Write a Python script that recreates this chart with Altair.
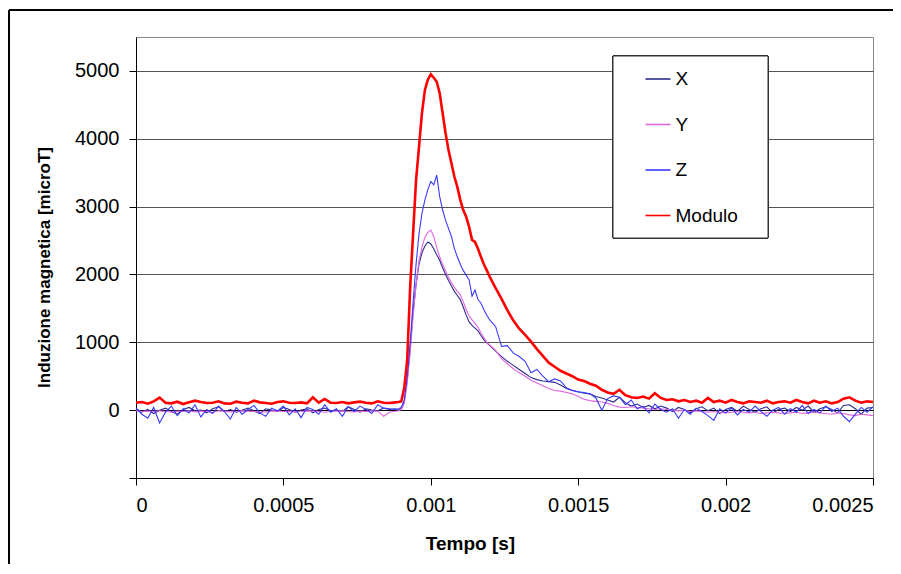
import pandas as pd
import altair as alt

# time indices in units of 1e-5 s
t_pre = list(range(0, 89, 2))      # 45 samples
t_peak = list(range(89, 121))      # 32 samples
t_post = list(range(122, 251, 2))  # 65 samples

modulo_pre = [110, 120, 95, 130, 185,
              110, 100, 125, 90, 115,
              140, 120, 105, 110, 130,
              100, 95, 125, 110, 100,
              140, 115, 105, 95, 120,
              130, 110, 105, 115, 100,
              190, 110, 165, 110, 105,
              120, 100, 115, 125, 110,
              100, 130, 110, 105, 115]
x_pre = [20, -30, 10, -50, 0,
         30, -20, -60, 10, 40,
         -10, 0, -40, 20, 50,
         -20, 10, -30, 0, 30,
         -10, -50, 20, 0, -20,
         40, 10, -30, 0, 20,
         -40, 10, 30, -10, 0,
         -20, 50, 10, -30, 20,
         0, -10, 30, 10, 20]
y_pre = [-10, -20, -15, -25, -10,
         -20, -30, -15, -20, -10,
         -25, -15, -20, -30, -10,
         -15, -25, -20, -10, -15,
         -20, -30, -25, -15, -10,
         -20, -15, -25, -20, -10,
         -15, -20, -30, -20, -15,
         -10, -20, -25, -15, -20,
         -10, -15, -90, -30, -15]
z_pre = [30, -60, -120, 40, -190,
         -30, 60, -80, 20, -40,
         80, -100, 10, -50, 60,
         -20, -130, 40, -60, 10,
         70, -40, -90, 30, -10,
         60, -70, 20, -110, 40,
         10, -60, 80, -30, 20,
         -90, 50, -20, 60, 10,
         -50, 80, 30, 20, 10]

modulo_peak = [120, 130, 330, 740, 1810, 2610, 3390, 3880, 4380, 4720, 4870,
               4950, 4900, 4840, 4675, 4380, 4085, 3835, 3640, 3440, 3290,
               3100, 2950, 2850, 2700, 2510, 2480, 2380, 2260, 2150, 2060, 1965]
x_peak = [0, 30, 130, 450, 900, 1450, 1850, 2150, 2320, 2420, 2480,
          2450, 2380, 2290, 2210, 2100, 2000, 1910, 1830, 1750, 1690,
          1630, 1520, 1400, 1300, 1250, 1210, 1170, 1100, 1040, 990, 950]
y_peak = [-10, 10, 100, 400, 850, 1400, 1850, 2200, 2400, 2550, 2620,
          2655, 2560, 2400, 2260, 2150, 2050, 1960, 1880, 1810, 1750,
          1700, 1600, 1480, 1390, 1330, 1280, 1220, 1140, 1070, 1000, 960]
z_peak = [20, 40, 150, 500, 990, 1600, 2150, 2600, 2900, 3100, 3250,
          3370, 3320, 3465, 3150, 2950, 2800, 2680, 2560, 2380, 2260,
          2150, 2060, 1990, 1920, 1680, 1770, 1630, 1580, 1480, 1400, 1330]

modulo_post = [1800, 1640, 1470, 1320, 1200, 1110, 1010, 900, 800, 700,
               640, 580, 540, 500, 450, 430, 390, 360, 300, 260,
               240, 300, 220, 190, 180, 200, 170, 250, 180, 150,
               160, 130, 150, 120, 140, 110, 180, 120, 140, 110,
               150, 120, 100, 130, 120, 110, 140, 100, 120, 130,
               110, 150, 120, 100, 140, 110, 130, 100, 120, 170,
               190, 140, 110, 130, 120]
x_post = [870, 790, 720, 660, 600, 540, 480, 450, 430, 420,
          410, 370, 320, 290, 270, 250, 240, 200, 180, 150,
          120, 190, 110, 60, 90, 40, 70, 20, 60, 30,
          -20, 40, 10, -40, 20, 50, -10, 30, -50, 10,
          40, -20, 60, 10, -30, 20, 50, -40, 10, 30,
          -20, 40, 0, 60, -30, 20, 50, 10, -40, 70,
          80, 20, -60, 30, 40]
y_post = [880, 760, 680, 610, 550, 500, 440, 400, 360, 320,
          290, 280, 260, 240, 200, 160, 140, 130, 120, 100,
          70, 45, 40, 50, 40, 30, 20, 10, 20, 10,
          0, -10, 0, -20, -10, -20, -30, -20, -30, -40,
          -30, -20, -30, -40, -30, -50, -40, -30, -40, -50,
          -40, -30, -50, -40, -30, -40, -50, -60, -40, -50,
          -70, -80, -60, -70, -80]
z_post = [1230, 940, 950, 840, 790, 720, 550, 600, 500, 420,
          460, 430, 330, 290, 270, 260, 240, 180, 0, 170,
          210, 190, 80, 150, 20, 60, -40, 90, 10, -30,
          20, -120, 10, -60, 30, -20, -80, -150, 20, -40,
          30, -70, 10, -30, 60, -20, -90, 0, 40, -60,
          20, -30, 70, -50, 10, -40, 60, -20, 30, -90,
          -170, -60, 40, -30, 50]

series_names = ["X", "Y", "Z", "Modulo"]
series_colors = ["#2b2b8c", "#e066e0", "#3a3aff", "#ff0000"]

t_idx = t_pre + t_peak + t_post
values = {
    "X": x_pre + x_peak + x_post,
    "Y": y_pre + y_peak + y_post,
    "Z": z_pre + z_peak + z_post,
    "Modulo": modulo_pre + modulo_peak + modulo_post,
}

rows = []
for name in series_names:
    for ti, v in zip(t_idx, values[name]):
        rows.append({"t": round(ti * 1e-5, 6), "B": v, "serie": name})
df = pd.DataFrame(rows)

FONT = "Liberation Sans"

# legend frame (drawn under the legend, above the grid)
legend_box = alt.Chart(df).mark_rect(fill="#ffffff", stroke="#333333", strokeWidth=1).encode(
    x=alt.value(477), x2=alt.value(632), y=alt.value(19), y2=alt.value(201))

lines = alt.Chart(df).mark_line(interpolate="linear").encode(
    x=alt.X("t:Q", title="Tempo [s]",
            scale=alt.Scale(domain=[0, 0.0025], nice=False, zero=False),
            axis=alt.Axis(values=[0, 0.0005, 0.001, 0.0015, 0.002, 0.0025],
                          format=".4~f", grid=False, tickSize=7,
                          labelPadding=10, labelFontSize=20,
                          titleX=334, titleY=65, titleBaseline="middle",
                          titleFontSize=19, titleFontWeight="bold")),
    y=alt.Y("B:Q", title="Induzione magnetica [microT]",
            scale=alt.Scale(domain=[-1000, 5500], nice=False),
            axis=alt.Axis(values=[-1000, 0, 1000, 2000, 3000, 4000, 5000],
                          format="d",
                          labelExpr="datum.value < 0 ? '' : datum.label",
                          grid=True,
                          gridColor=alt.condition("datum.value == 0", alt.value("#000000"), alt.value("#555555")),
                          tickSize=7, labelPadding=10, labelFontSize=20,
                          titleX=-92, titleY=230, titleBaseline="middle",
                          titleFontSize=17, titleFontWeight="bold")),
    color=alt.Color("serie:N",
                    scale=alt.Scale(domain=series_names, range=series_colors),
                    sort=series_names,
                    legend=alt.Legend(title=None, orient="none", legendX=477, legendY=19,
                                      symbolType="stroke", symbolSize=625,
                                      symbolStrokeWidth=1.6, symbolOffset=22,
                                      padding=9.5, rowPadding=21.5, labelOffset=4,
                                      labelFontSize=19, labelFont=FONT)),
    strokeWidth=alt.condition(alt.datum.serie == "Modulo", alt.value(2.6), alt.value(1.1)),
)

frame_left = alt.Chart(df).mark_rule(color="#000000", strokeWidth=1).encode(
    x=alt.value(-127), y=alt.value(-27), y2=alt.value(560))
frame_top = alt.Chart(df).mark_rule(color="#000000", strokeWidth=1).encode(
    x=alt.value(-127), x2=alt.value(780), y=alt.value(-27))

chart = alt.layer(legend_box, lines, frame_left, frame_top).properties(
    width=737, height=441,
    autosize=alt.AutoSizeParams(type="none"),
    padding={"left": 128, "top": 29, "right": 20, "bottom": 86},
    background="#ffffff",
).configure_view(
    stroke="#888888", strokeWidth=1
).configure_axis(
    labelFont=FONT, titleFont=FONT, labelColor="#000000", titleColor="#000000",
    domainColor="#000000", tickColor="#000000", gridWidth=1, domainWidth=1,
)

chart.save("out.html", embed_options={"renderer": "svg", "actions": False})
